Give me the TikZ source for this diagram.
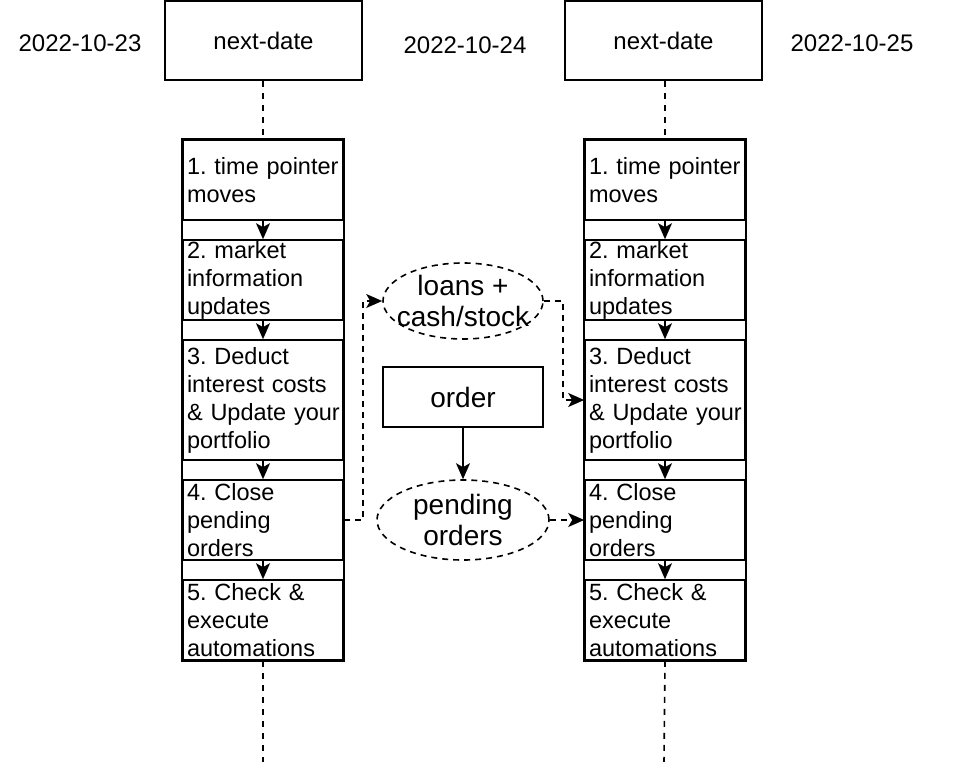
\documentclass[tikz,border=0pt]{standalone}
\usepackage{fontspec}
\setmainfont{Liberation Sans}
\usetikzlibrary{arrows.meta,shapes.geometric}
\frenchspacing

\tikzset{
  stepbox/.style={draw, line width=1.6pt, minimum width=160pt, text width=152pt,
    inner xsep=4pt, inner ysep=0pt, align=left, font=\fontsize{23.5}{28}\selectfont},
  datebox/.style={draw, line width=1.6pt, minimum width=197pt, minimum height=79pt,
    font=\fontsize{24}{28}\selectfont},
  bubble/.style={draw, dash pattern=on 6pt off 5pt, line width=1.6pt, ellipse,
    inner xsep=-35pt, inner ysep=-18pt, align=center, font=\fontsize{28}{31}\selectfont},
  lifeline/.style={line width=1.6pt, dash pattern=on 6pt off 6pt},
  flow/.style={line width=1.6pt, -{Stealth[length=16pt,width=14pt,inset=4pt]}},
  dflow/.style={line width=1.6pt, dash pattern=on 6pt off 5pt, -{Stealth[length=16pt,width=14pt,inset=4pt]}}
}

\begin{document}
\begin{tikzpicture}[x=1pt,y=-1pt]
\useasboundingbox (0,0) rectangle (966,762);

\node[font=\fontsize{24}{28}\selectfont] (d23) at (80,43) {2022-10-23};
\node[font=\fontsize{24}{28}\selectfont] (d24) at (465,45) {2022-10-24};
\node[font=\fontsize{24}{28}\selectfont] (d25) at (852,43) {2022-10-25};

\node[datebox] (nexta) at (263.5,40.5) {next-date};
\node[datebox] (nextb) at (663.5,40.5) {next-date};

% left day
\node[stepbox, minimum height=80pt] (a1) at (263,180) {\mbox{1. time pointer}\\moves};
\node[stepbox, minimum height=80pt] (a2) at (263,280) {2. market\\information\\updates};
\node[stepbox, minimum height=120pt] (a3) at (263,400) {3. Deduct\\\mbox{interest costs}\\\mbox{\& Update your}\\portfolio};
\node[stepbox, minimum height=80pt] (a4) at (263,520) {4. Close\\pending\\orders};
\node[stepbox, minimum height=80pt] (a5) at (263,620) {5. Check \&\\execute\\automations};
\draw[line width=1.6pt] (a1.north west) rectangle (a5.south east);

% right day
\node[stepbox, minimum height=80pt] (b1) at (665,180) {\mbox{1. time pointer}\\moves};
\node[stepbox, minimum height=80pt] (b2) at (665,280) {2. market\\information\\updates};
\node[stepbox, minimum height=120pt] (b3) at (665,400) {3. Deduct\\\mbox{interest costs}\\\mbox{\& Update your}\\portfolio};
\node[stepbox, minimum height=80pt] (b4) at (665,520) {4. Close\\pending\\orders};
\node[stepbox, minimum height=80pt] (b5) at (665,620) {5. Check \&\\execute\\automations};
\draw[line width=1.6pt] (b1.north west) rectangle (b5.south east);

\draw[flow] (a1) -- (a2);
\draw[flow] (a2) -- (a3);
\draw[flow] (a3) -- (a4);
\draw[flow] (a4) -- (a5);
\draw[flow] (b1) -- (b2);
\draw[flow] (b2) -- (b3);
\draw[flow] (b3) -- (b4);
\draw[flow] (b4) -- (b5);

% lifelines
\coordinate (enda) at (263,762);
\coordinate (endb) at (664,762);
\draw[lifeline] (nexta.south -| a1.north) -- (a1.north);
\draw[lifeline] (a5.south) -- (enda);
\draw[lifeline] (nextb.south -| b1.north) -- (b1.north);
\draw[lifeline] (b5.south) -- (endb);

% things carried over
\node[bubble, minimum width=160pt, minimum height=76pt] (loans) at (463,301) {loans +\\cash/stock};
\node[draw, line width=1.6pt, minimum width=160pt, minimum height=60pt,
  font=\fontsize{28}{32}\selectfont] (order) at (463,397) {order};
\node[bubble, minimum width=172pt, minimum height=80pt] (pending) at (463,520) {pending\\orders};

\draw[flow] (order) -- (pending);
\draw[dflow] (a4.east) -- ++(19,0) |- (loans.west);
\draw[dflow] (loans.east) -- ++(19,0) |- (b3.west);
\draw[dflow] (pending.east) -- (b4.west);

\end{tikzpicture}
\end{document}
